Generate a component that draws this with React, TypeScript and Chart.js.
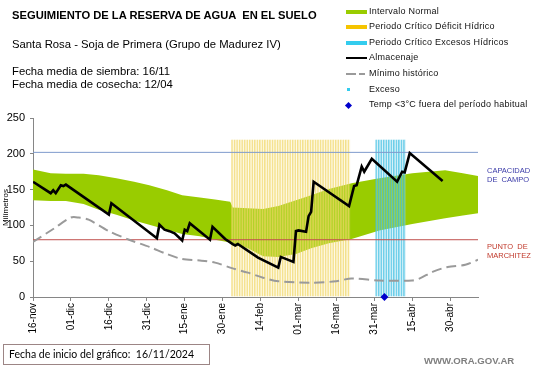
import React, { useEffect, useRef } from 'react';
import { Chart, registerables } from 'chart.js';

Chart.register(...registerables);

// ---- data ----
const tickLabels = ['16-nov', '01-dic', '16-dic', '31-dic', '15-ene', '30-ene', '14-feb', '01-mar', '16-mar', '31-mar', '15-abr', '30-abr'];
const tickStepDays = 15;
const axisMaxDay = 176;
const yTicks = [0, 50, 100, 150, 200, 250];

const bandDays = [0, 7, 13, 20, 26, 33, 40, 46, 53, 59, 66, 72, 78, 79, 85, 91, 97, 104, 110, 117, 126, 137, 150, 163, 170, 176];
const bandUpper = [178, 173, 172, 172, 170, 166, 161, 156, 149, 142, 139, 136, 133, 125, 124, 123, 127, 135, 142, 151, 159, 166, 173, 177, 173, 169];
const bandLower = [135, 134, 134, 130, 122, 115, 107, 101, 94, 88, 85, 80, 76, 75, 68, 57, 56, 60, 68, 75, 81, 93, 102, 110, 114, 117];

const minDays = [0, 8, 15, 18, 22, 30, 38, 46, 53, 59, 66, 72, 79, 85, 91, 97, 110, 120, 126, 137, 150, 153, 158, 164, 171, 176];
const minVals = [77, 95, 111, 111, 108, 92, 80, 70, 60, 53, 51, 48, 40, 34, 27, 22, 20, 22, 26, 23, 23, 26, 35, 42, 45, 52];

const almDays = [0, 7, 8, 9, 11, 12, 13, 30, 31, 49, 50, 52, 54, 56, 59, 60, 61, 62, 70, 71, 76, 79, 80, 81, 89, 97, 98, 103, 104, 105, 108, 109, 110, 111, 125, 127, 128, 130, 131, 134, 144, 146, 147, 149, 162];
const almVals = [161, 145, 149, 145, 156, 155, 157, 115, 131, 82, 101, 94, 92, 89, 79, 94, 92, 103, 80, 98, 81, 74, 72, 74, 55, 41, 56, 49, 92, 93, 91, 113, 119, 161, 127, 155, 156, 182, 175, 193, 161, 175, 174, 201, 162];

const deficitPeriod = [79, 125];
const excessPeriod = [136, 147];
const periodTop = 220;

const capacidadCampo = 202;
const puntoMarchitez = 80;

const tempDays = [139];
const tempVals = [0];

const legendLabels = [
  'Intervalo Normal',
  'Periodo Crítico Déficit Hídrico',
  'Periodo Crítico Excesos Hídricos',
  'Almacenaje',
  'Mínimo histórico',
  'Exceso',
  'Temp <3°C fuera del período habitual',
];

// ---- helpers ----
const toPoints = (xs: number[], ys: number[]) => xs.map((x, i) => ({ x, y: ys[i] }));
const periodDays = (p: number[]) => {
  const out: { x: number; y: number }[] = [];
  for (let d = p[0]; d <= p[1]; d++) out.push({ x: d, y: periodTop });
  return out;
};

const FONT = "'Liberation Sans', Arial, Helvetica, sans-serif";
const GREEN = '#99cc00';
const AXIS = '#868686';

const abs = (s: React.CSSProperties): React.CSSProperties => ({ position: 'absolute', whiteSpace: 'pre', ...s });

export default function App() {
  const ref = useRef<HTMLCanvasElement>(null);

  useEffect(() => {
    const canvas = ref.current!;
    const chart = new Chart(canvas, {
      type: 'line',
      data: {
        datasets: [
          {
            data: toPoints(bandDays, bandUpper),
            borderWidth: 0,
            borderColor: GREEN,
            backgroundColor: GREEN,
            pointRadius: 0,
            fill: '+1',
            order: 10,
          } as any,
          {
            data: toPoints(bandDays, bandLower),
            borderWidth: 0,
            borderColor: GREEN,
            pointRadius: 0,
            fill: false,
            order: 10,
          },
          {
            type: 'bar',
            data: periodDays(deficitPeriod),
            backgroundColor: 'rgba(250,236,165,0.25)',
            borderColor: 'rgba(240,212,95,0.7)',
            borderWidth: { left: 1, right: 0, top: 0, bottom: 0 },
            borderSkipped: false,
            barPercentage: 1,
            categoryPercentage: 1,
            grouped: false,
            order: 8,
          } as any,
          {
            type: 'bar',
            data: periodDays(excessPeriod),
            backgroundColor: 'rgba(150,220,240,0.3)',
            borderColor: 'rgba(60,190,225,0.75)',
            borderWidth: { left: 1, right: 0, top: 0, bottom: 0 },
            borderSkipped: false,
            barPercentage: 1,
            categoryPercentage: 1,
            grouped: false,
            order: 8,
          } as any,
          {
            data: [{ x: 0, y: capacidadCampo }, { x: axisMaxDay, y: capacidadCampo }],
            borderColor: '#7f9bcc',
            borderWidth: 1,
            pointRadius: 0,
            fill: false,
            order: 6,
          },
          {
            data: [{ x: 0, y: puntoMarchitez }, { x: axisMaxDay, y: puntoMarchitez }],
            borderColor: '#c0504d',
            borderWidth: 1,
            pointRadius: 0,
            fill: false,
            order: 6,
          },
          {
            data: toPoints(minDays, minVals),
            borderColor: '#9a9a9a',
            borderWidth: 2,
            borderDash: [10, 5],
            pointRadius: 0,
            fill: false,
            tension: 0.3,
            order: 5,
          },
          {
            data: toPoints(almDays, almVals),
            borderColor: '#000000',
            borderWidth: 2.6,
            pointRadius: 0,
            fill: false,
            tension: 0,
            order: 1,
          },
          {
            data: toPoints(tempDays, tempVals),
            showLine: false,
            pointStyle: 'rectRot',
            pointRadius: 4,
            backgroundColor: '#0000cc',
            borderColor: '#0000cc',
            borderWidth: 0,
            clip: false,
            order: 0,
          } as any,
        ],
      },
      options: {
        animation: false,
        responsive: false,
        devicePixelRatio: 1,
        events: [],
        layout: { padding: { left: 0, top: 118, right: 63, bottom: 0 } },
        plugins: {
          legend: { display: false },
          tooltip: { enabled: false },
          title: { display: false },
        },
        scales: {
          x: {
            type: 'linear',
            min: 0,
            max: axisMaxDay,
            offset: false,
            afterFit: (s: any) => { s.height = 71; },
            afterBuildTicks: (s: any) => { s.ticks = tickLabels.map((_, i) => ({ value: i * tickStepDays })); },
            grid: { display: true, drawOnChartArea: false, drawTicks: true, tickLength: 4, color: AXIS, offset: false },
            border: { display: true, color: AXIS, width: 1 },
            ticks: {
              autoSkip: false,
              minRotation: 90,
              maxRotation: 90,
              padding: 2,
              color: '#000',
              font: { family: FONT, size: 10 },
              callback: (v: any) => tickLabels[Math.round(Number(v) / tickStepDays)] ?? '',
            },
          },
          y: {
            type: 'linear',
            min: 0,
            max: 250,
            afterFit: (s: any) => { s.width = 33; },
            afterBuildTicks: (s: any) => { s.ticks = yTicks.map((v) => ({ value: v })); },
            grid: { display: true, drawOnChartArea: false, drawTicks: true, tickLength: 3, color: AXIS },
            border: { display: true, color: AXIS, width: 1 },
            title: {
              display: true,
              text: 'Milímetros',
              color: '#000',
              font: { family: FONT, size: 8 },
              padding: { top: 1, bottom: 0 },
            },
            ticks: {
              padding: 5,
              color: '#000',
              font: { family: FONT, size: 11 },
            },
          },
        },
      } as any,
    });
    return () => chart.destroy();
  }, []);

  const legendY0 = 11.6;
  const legendStep = 15.6;
  const lf = 9;

  return (
    <div style={{ position: 'absolute', left: 0, top: 0, width: 541, height: 368, background: '#fff', overflow: 'hidden', fontFamily: FONT, color: '#000' }}>
      <canvas ref={ref} width={541} height={368} style={{ position: 'absolute', left: 0, top: 0, width: 541, height: 368 }} />

      <div style={abs({ left: 12, top: 10, fontSize: 11.2, lineHeight: '11px', fontWeight: 'bold' })}>SEGUIMIENTO DE LA RESERVA DE AGUA  EN EL SUELO</div>
      <div style={abs({ left: 12, top: 38.5, fontSize: 11.3, lineHeight: '11.3px' })}>Santa Rosa - Soja de Primera (Grupo de Madurez IV)</div>
      <div style={abs({ left: 12, top: 64.5, fontSize: 11.3, lineHeight: '13.5px' })}>{'Fecha media de siembra: 16/11\nFecha media de cosecha: 12/04'}</div>

      {/* legend */}
      <div style={abs({ left: 346, top: legendY0 - 2, width: 21, height: 4, background: GREEN })} />
      <div style={abs({ left: 346, top: legendY0 + legendStep - 2, width: 21, height: 4, background: '#f5c400' })} />
      <div style={abs({ left: 346, top: legendY0 + 2 * legendStep - 2, width: 21, height: 4, background: '#33ccee' })} />
      <div style={abs({ left: 346, top: legendY0 + 3 * legendStep - 1, width: 21, height: 2, background: '#000' })} />
      <div style={abs({ left: 346, top: legendY0 + 4 * legendStep - 1, width: 10, height: 2, background: '#9a9a9a' })} />
      <div style={abs({ left: 359, top: legendY0 + 4 * legendStep - 1, width: 6, height: 2, background: '#9a9a9a' })} />
      <div style={abs({ left: 346.5, top: legendY0 + 5 * legendStep - 1.5, width: 3, height: 3, background: '#33ccee' })} />
      <div style={abs({ left: 345.5, top: legendY0 + 6 * legendStep - 2.5, width: 5, height: 5, background: '#0000cc', transform: 'rotate(45deg)' })} />
      {legendLabels.map((t, i) => (
        <div key={t} style={abs({ left: 369, top: legendY0 + i * legendStep - lf * 0.55, fontSize: lf, lineHeight: `${lf}px`, letterSpacing: '0.25px', color: '#111' })}>{t}</div>
      ))}

      {/* right-side labels */}
      <div style={abs({ left: 487, top: 166, fontSize: 7.5, lineHeight: '9px', color: '#3a3aa8' })}>{'CAPACIDAD\nDE  CAMPO'}</div>
      <div style={abs({ left: 487, top: 242, fontSize: 7.5, lineHeight: '9px', color: '#c0392b' })}>{'PUNTO  DE\nMARCHITEZ'}</div>

      {/* footer */}
      <div style={abs({ left: 3, top: 344, width: 207, height: 21, border: '1px solid #9c8585', boxSizing: 'border-box' })} />
      <div style={abs({ left: 9, top: 349, fontSize: 10.5, lineHeight: '11px', fontFamily: "Lato, 'Open Sans', sans-serif" })}>{'Fecha de inicio del gráfico:  16/11/2024'}</div>
      <div style={abs({ left: 424, top: 356, fontSize: 9.6, lineHeight: '10px', fontWeight: 'bold', color: '#7f7f7f' })}>WWW.ORA.GOV.AR</div>
    </div>
  );
}
